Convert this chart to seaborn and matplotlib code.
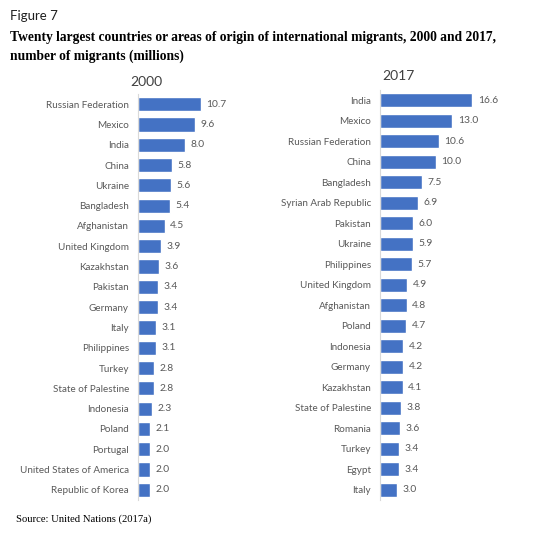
import matplotlib
matplotlib.use("Agg")
import matplotlib.pyplot as plt
import seaborn as sns
import pandas as pd

countries_2000 = ["Russian Federation", "Mexico", "India", "China", "Ukraine", "Bangladesh",
                  "Afghanistan", "United Kingdom", "Kazakhstan", "Pakistan", "Germany", "Italy",
                  "Philippines", "Turkey", "State of Palestine", "Indonesia", "Poland", "Portugal",
                  "United States of America", "Republic of Korea"]
values_2000 = [10.7, 9.6, 8.0, 5.8, 5.6, 5.4, 4.5, 3.9, 3.6, 3.4, 3.4, 3.1, 3.1, 2.8, 2.8,
               2.3, 2.1, 2.0, 2.0, 2.0]

countries_2017 = ["India", "Mexico", "Russian Federation", "China", "Bangladesh",
                  "Syrian Arab Republic", "Pakistan", "Ukraine", "Philippines", "United Kingdom",
                  "Afghanistan", "Poland", "Indonesia", "Germany", "Kazakhstan",
                  "State of Palestine", "Romania", "Turkey", "Egypt", "Italy"]
values_2017 = [16.6, 13.0, 10.6, 10.0, 7.5, 6.9, 6.0, 5.9, 5.7, 4.9, 4.8, 4.7, 4.2, 4.2, 4.1,
               3.8, 3.6, 3.4, 3.4, 3.0]

BAR = "#4472C4"
TXT = "#595959"
LAB_FONT = ["Lato", "DejaVu Sans"]

sns.set_theme(style="white")
plt.rcParams["font.family"] = LAB_FONT

W, H = 541, 533
fig = plt.figure(figsize=(W / 100, H / 100), dpi=100)

def panel(rect_px, cats, vals, xmax):
    x0, y0, x1, y1 = rect_px
    ax = fig.add_axes([x0 / W, 1 - y1 / H, (x1 - x0) / W, (y1 - y0) / H])
    df = pd.DataFrame({"country": cats, "value": vals})
    sns.barplot(data=df, x="value", y="country", orient="h", color=BAR, width=0.7,
                saturation=1, ax=ax)
    ax.set_xlim(0, xmax)
    for c in ax.containers:
        ax.bar_label(c, fmt="%.1f", padding=4, fontsize=7.4, color=TXT, family=LAB_FONT)
    ax.set_xlabel("")
    ax.set_ylabel("")
    ax.set_xticks([])
    ax.tick_params(axis="y", length=0, pad=6.5, labelsize=7.1, labelcolor=TXT)
    for s in ["top", "right", "bottom"]:
        ax.spines[s].set_visible(False)
    ax.spines["left"].set_color("#D9D9D9")
    ax.spines["left"].set_linewidth(0.8)
    return ax

panel((138, 94, 244, 500), countries_2000, values_2000, 18)
panel((380, 90, 491, 500), countries_2017, values_2017, 20)

fig.text(146 / W, 1 - 82 / H, "2000", ha="center", va="center", fontsize=10, color="#404040")
fig.text(398 / W, 1 - 76 / H, "2017", ha="center", va="center", fontsize=10, color="#404040")

fig.text(10 / W, 1 - 16 / H, "Figure 7", ha="left", va="center", fontsize=9.5, color="#1F1F1F")
fig.text(10 / W, 1 - 37 / H,
         "Twenty largest countries or areas of origin of international migrants, 2000 and 2017,",
         ha="left", va="center", fontsize=9.75, fontweight="bold", family="Liberation Serif",
         color="black")
fig.text(10 / W, 1 - 56 / H, "number of migrants (millions)", ha="left", va="center",
         fontsize=9.75, fontweight="bold", family="Liberation Serif", color="black")
fig.text(16 / W, 1 - 519 / H, "Source: United Nations (2017a)", ha="left", va="center",
         fontsize=7.7, family="Liberation Serif", color="black")

fig.savefig("out.png", dpi=100)
